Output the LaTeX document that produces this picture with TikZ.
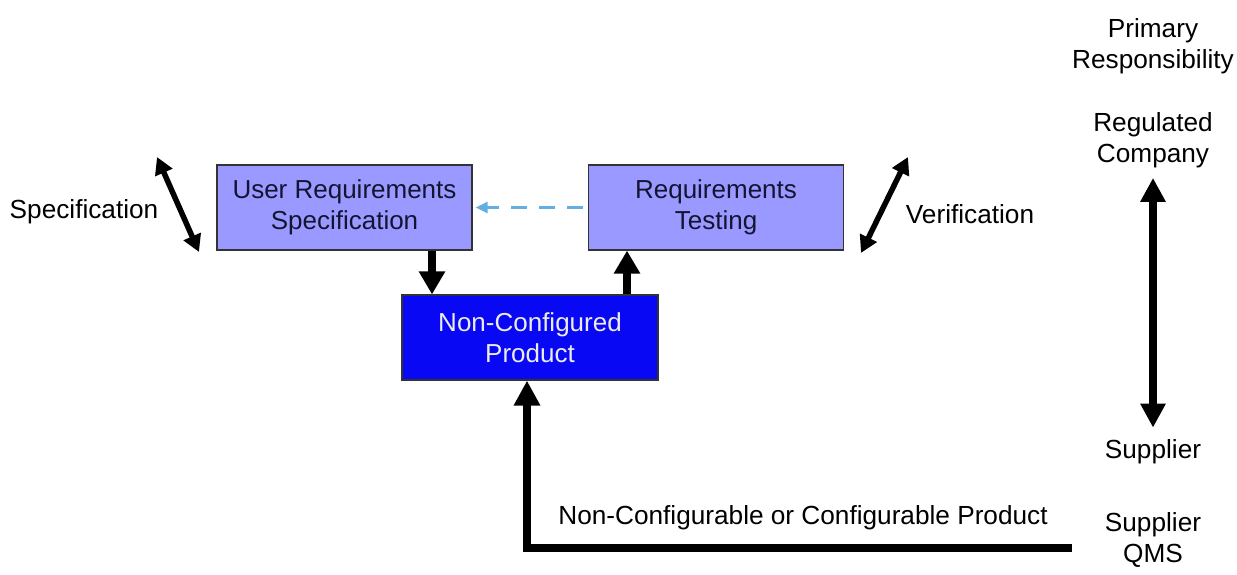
\documentclass[tikz,border=0pt]{standalone}
\usepackage{fontspec}
\setmainfont{Liberation Sans}
\usetikzlibrary{arrows.meta,calc}
\definecolor{lightbox}{RGB}{153,153,255}
\definecolor{darkbox}{RGB}{8,8,245}
\definecolor{dashblue}{RGB}{100,175,225}
\definecolor{boxtext}{RGB}{20,20,50}
\tikzset{
  txt/.style={font=\fontsize{26.2}{31}\selectfont, align=center, inner sep=0pt},
  lbox/.style={draw=black!80, line width=1.2pt, fill=lightbox, minimum width=255pt, minimum height=85pt, align=center, text=boxtext, font=\fontsize{26}{31}\selectfont},
  dbox/.style={draw=black!80, line width=1.2pt, fill=darkbox, minimum width=256pt, minimum height=85pt, align=center, text=black!8, font=\fontsize{26}{31}\selectfont},
  fat/.style={line width=8pt, -{Triangle[width=25pt,length=23pt]}},
  twoway/.style={line width=5.5pt, {Triangle[width=18pt,length=17pt]}-{Triangle[width=18pt,length=17pt]}},
  bigtwoway/.style={line width=7.5pt, {Triangle[width=24pt,length=24pt]}-{Triangle[width=24pt,length=24pt]}},
}
\begin{document}
\begin{tikzpicture}[x=1pt,y=-1pt]
\useasboundingbox (0,0) rectangle (1237,575);
\fill[white] (0,0) rectangle (1237,575);
\node[lbox] (urs) at (344.5,207.5) {User Requirements\\Specification};
\node[lbox] (rt) at (716,207.5) {Requirements\\Testing};
\node[dbox] (ncp) at (530,337.5) {Non-Configured\\Product};

\node[txt] (spec) at (84,212) {Specification};
\node[txt] (ver) at (970,214) {Verification};
\node[txt] (prim) at (1153,46) {Primary\\Responsibility};
\node[txt] (reg) at (1153,140) {Regulated\\Company};
\node[txt] (sup) at (1153,452) {Supplier};
\node[txt] (qms) at (1153,540) {Supplier\\QMS};
\node[txt] (prod) at (803,518) {Non-Configurable or Configurable Product};

\coordinate (s1) at (157,157);
\coordinate (s2) at (199,252);
\coordinate (v1) at (908,157);
\coordinate (v2) at (861,253);
\coordinate (lstart) at (1072,548);
\coordinate (dx) at (432,0);
\coordinate (ux) at (627,0);

\draw[fat] (urs.south -| dx) -- (ncp.north -| dx);
\draw[fat] (ncp.north -| ux) -- (rt.south -| ux);
\draw[dashblue, line width=2.5pt, dash pattern=on 16pt off 12pt, -{Triangle[width=11pt,length=12pt]}] ([xshift=-5pt]rt.west) -- ([xshift=3pt]urs.east);
\draw[twoway] (s1) -- (s2);
\draw[twoway] (v1) -- (v2);
\draw[bigtwoway] ([yshift=-10pt]reg.south) -- ([yshift=12pt]sup.north);
\draw[line width=8pt, -{Triangle[width=25pt,length=25pt]}] (lstart) -| ([xshift=-3pt]ncp.south);
\end{tikzpicture}
\end{document}
